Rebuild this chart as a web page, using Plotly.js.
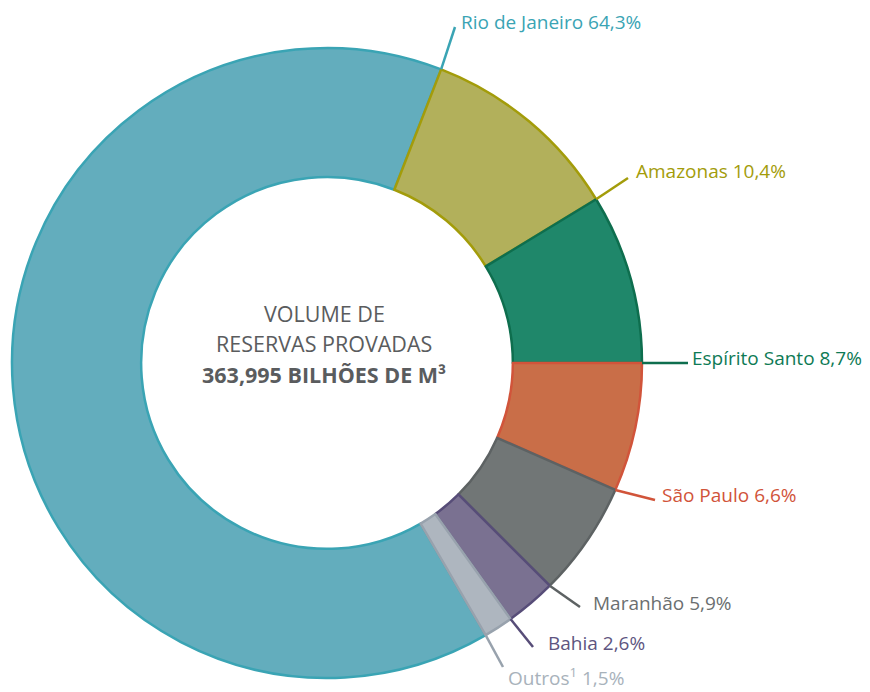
<!DOCTYPE html>
<html>
<head>
<meta charset="utf-8">
<script src="https://cdn.plot.ly/plotly-3.0.1.min.js"></script>
<style>html,body{margin:0;padding:0;background:#fff;}#chart{width:870px;height:692px;}</style>
</head>
<body>
<div id="chart"></div>
<script>
// ---- data ----
var states = ["Rio de Janeiro", "Amazonas", "Espírito Santo", "São Paulo", "Maranhão", "Bahia", "Outros<sup>1</sup>"];
var shares = [64.3, 10.4, 8.7, 6.6, 5.9, 2.6, 1.5];
var shareLabels = ["64,3%", "10,4%", "8,7%", "6,6%", "5,9%", "2,6%", "1,5%"];
var centerLines = ["VOLUME DE", "RESERVAS PROVADAS", "<b>363,995 BILHÕES DE M³</b>"];

// ---- styles ----
var fills = ["#63adbd", "#b2b05b", "#1f876a", "#c96e48", "#717676", "#7a7191", "#aeb6bf"];
var borders = ["#3aa4b4", "#a39c0a", "#0e6e4e", "#d1543a", "#5d6263", "#574d78", "#98a2ad"];
var labelColors = ["#3aa4b4", "#a39c0a", "#0e7a55", "#d1543a", "#6b6f70", "#5e5580", "#a8b2bb"];
// leader end points and text anchors (pixels)
var leaderEnd = [[455, 27], [628, 178], [688, 363], [655, 500], [580, 607], [533, 647], [503, 667]];
var textPos = [[460, 22], [635, 171], [691, 358], [661, 495], [592, 603], [547, 643], [507, 683]];

var W = 870, H = 692;
var cx = 327, cy = 363, R = 315;
var total = shares.reduce(function (a, b) { return a + b; }, 0);
// Espírito Santo slice ends at 3 o'clock
var cumES = shares[0] + shares[1] + shares[2];
var rotation = 90 - cumES / total * 360;

var domain = {
  x: [(cx - R) / W, (cx + R) / W],
  y: [(H - (cy + R)) / H, (H - (cy - R)) / H]
};

var trace = {
  type: "pie",
  labels: states,
  values: shares,
  sort: false,
  direction: "clockwise",
  rotation: rotation,
  hole: 0.59,
  domain: domain,
  textinfo: "none",
  hoverinfo: "label+percent",
  showlegend: false,
  marker: { colors: fills, line: { color: borders, width: 2.5 } }
};

var shapes = [], annotations = [];
var cum = 0;
for (var i = 0; i < shares.length; i++) {
  cum += shares[i];
  var a = (rotation + cum / total * 360) * Math.PI / 180;
  var sx = cx + R * Math.sin(a), sy = cy - R * Math.cos(a);
  shapes.push({
    type: "line", xref: "paper", yref: "paper",
    x0: sx / W, y0: 1 - sy / H,
    x1: leaderEnd[i][0] / W, y1: 1 - leaderEnd[i][1] / H,
    line: { color: borders[i], width: 2.5 }
  });
  var last = (i === shares.length - 1);
  annotations.push({
    xref: "paper", yref: "paper",
    x: textPos[i][0] / W, y: last ? 0 : 1 - textPos[i][1] / H,
    xanchor: "left", yanchor: last ? "bottom" : "middle",
    borderpad: 0,
    text: states[i] + " " + shareLabels[i],
    showarrow: false,
    font: { family: "Open Sans, sans-serif", size: 19, color: labelColors[i] }
  });
}
var centerY = [313, 343, 374];
for (var j = 0; j < centerLines.length; j++) {
  annotations.push({
    xref: "paper", yref: "paper",
    x: 324 / W, y: 1 - centerY[j] / H,
    xanchor: "center", yanchor: "middle",
    text: centerLines[j], showarrow: false,
    font: { family: "Open Sans, sans-serif", size: 21.5, color: "#5a5c5e" }
  });
}

var layout = {
  width: W, height: H,
  margin: { l: 0, r: 0, t: 0, b: 0 },
  paper_bgcolor: "#ffffff",
  showlegend: false,
  shapes: shapes,
  annotations: annotations
};

Plotly.newPlot("chart", [trace], layout, { displayModeBar: false, staticPlot: true });
</script>
</body>
</html>
